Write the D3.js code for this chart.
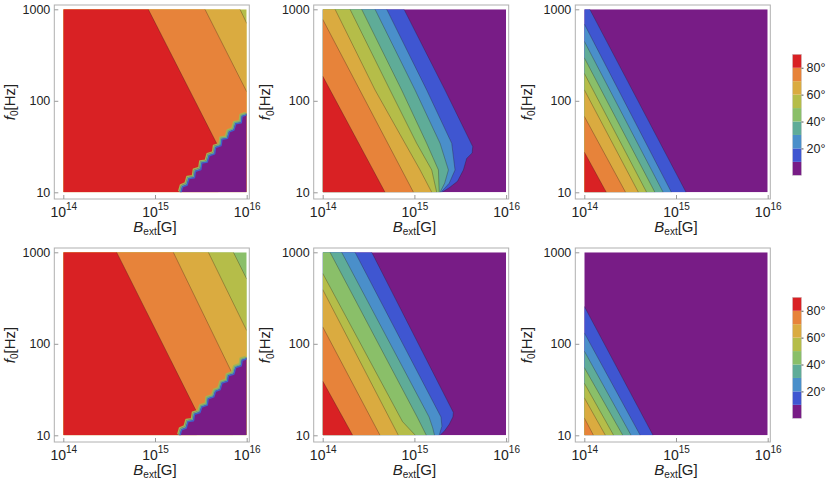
<!DOCTYPE html>
<html>
<head>
<meta charset="utf-8">
<script src="https://cdn.jsdelivr.net/npm/d3@7"></script>
<style>
  body { margin: 0; background: #fff; }
</style>
</head>
<body>
<script>
// contour levels (degrees) and the band colours between them, low -> high
const levels = [10, 20, 30, 40, 50, 60, 70, 80];
const bandColors = ["#781c86", "#3f56d1", "#4a8fca", "#5fac98", "#8abf69",
                    "#b5bd49", "#daab40", "#e7833a", "#d92124"];
const xTicks = [1e14, 1e15, 1e16];
const yTicks = [10, 100, 1000];
const legendTicks = [20, 40, 60, 80];

// contour lines per panel: [level, [[log10 B, log10 f0], ...]]
// the region below/left of each line has angle > level
const contoursA = [
  [60, [[15.927, 3], [16, 2.847]]],
  [70, [[15.545, 3], [16, 2.10]]],
  [80, [[14.927, 3], [15.69, 1.50]]]
];
const stairsA = [[15.27,1.00],[15.29,1.07],[15.34,1.09],[15.36,1.16],[15.42,1.17],[15.43,1.24],
  [15.49,1.26],[15.50,1.33],[15.56,1.34],[15.58,1.41],[15.64,1.43],[15.65,1.50],[15.71,1.52],
  [15.72,1.59],[15.78,1.60],[15.80,1.67],[15.85,1.69],[15.87,1.76],[15.93,1.77],[15.94,1.84],[16.00,1.86]];

const contoursB = [
  [10, [[14.887,3],[15.334,2.118],[15.636,1.5],[15.63,1.43],[15.57,1.37],[15.534,1.244],[15.47,1.12],[15.38,1.05],[15.30,1]]],
  [20, [[14.698,3],[15.134,2.118],[15.407,1.535],[15.443,1.244],[15.38,1.1],[15.29,1]]],
  [30, [[14.571,3],[15.007,2.118],[15.28,1.535],[15.371,1.244],[15.33,1.1],[15.28,1]]],
  [40, [[14.425,3],[14.861,2.118],[15.134,1.535],[15.262,1.244],[15.27,1]]],
  [50, [[14.298,3],[14.734,2.118],[15.025,1.535],[15.189,1.244],[15.243,1]]],
  [60, [[14.135,3],[14.571,2.118],[14.898,1.535],[15.062,1.244],[15.189,1]]],
  [70, [[14,2.89],[14.99,1]]],
  [80, [[14,2.27],[14.68,1]]]
];

const contoursC = [
  [10, [[14.06,3],[15.11,1]]],
  [20, [[14,2.84],[14.95,1]]],
  [30, [[14,2.65],[14.86,1]]],
  [40, [[14,2.47],[14.77,1]]],
  [50, [[14,2.30],[14.68,1]]],
  [60, [[14,2.12],[14.59,1]]],
  [70, [[14,1.83],[14.45,1]]],
  [80, [[14,1.44],[14.24,1]]]
];

const contoursD = [
  [50, [[15.855,3],[16,2.709]]],
  [60, [[15.582,3],[16,2.145]]],
  [70, [[15.20,3],[15.85,1.66]]],
  [80, [[14.582,3],[15.455,1.255]]]
];
const stairsD = [[15.26,1.00],[15.28,1.07],[15.33,1.09],[15.35,1.16],[15.41,1.17],[15.42,1.24],
  [15.48,1.26],[15.50,1.32],[15.56,1.34],[15.57,1.41],[15.63,1.43],[15.65,1.49],[15.70,1.51],
  [15.72,1.58],[15.78,1.60],[15.79,1.66],[15.85,1.68],[15.87,1.75],[15.93,1.77],[15.94,1.83],[16.00,1.85]];

const contoursE = [
  [10, [[14.535,3],[15.425,1.25],[15.42,1.2],[15.38,1.12],[15.33,1.05],[15.28,1]]],
  [20, [[14.353,3],[15.29,1.2],[15.30,1.1],[15.27,1]]],
  [30, [[14.207,3],[15.16,1.2],[15.20,1.08],[15.22,1]]],
  [40, [[14.08,3],[15.03,1.2],[15.10,1.06],[15.13,1]]],
  [50, [[14,2.77],[14.87,1.15],[15.01,1]]],
  [60, [[14,2.593],[14.825,1]]],
  [70, [[14,2.185],[14.625,1]]],
  [80, [[14,1.593],[14.327,1]]]
];

const contoursF = [
  [10, [[14,2.41],[14.75,1]]],
  [20, [[14,2.12],[14.61,1]]],
  [30, [[14,1.92],[14.51,1]]],
  [40, [[14,1.74],[14.42,1]]],
  [50, [[14,1.57],[14.32,1]]],
  [60, [[14,1.41],[14.23,1]]],
  [70, [[14,1.19],[14.10,1]]]
];

const panels = [
  { row: 0, col: 0, contours: contoursA, stairs: stairsA },
  { row: 0, col: 1, contours: contoursB },
  { row: 0, col: 2, contours: contoursC },
  { row: 1, col: 0, contours: contoursD, stairs: stairsD },
  { row: 1, col: 1, contours: contoursE },
  { row: 1, col: 2, contours: contoursF }
];

const width = 830, height = 488;
const colX = [63.3, 322.7, 584.3], rowY = [9.3, 252.3];
const plotW = 183.4, plotH = 183;
const pad = { left: 9, right: 2.6, top: 4.3, bottom: 6.7 };
const font = "'Liberation Sans', Arial, Helvetica, sans-serif";
const textColor = "#222";

const svg = d3.select("body").append("svg")
    .attr("width", width)
    .attr("height", height)
    .style("font-family", font);
const defs = svg.append("defs");

panels.forEach((p, i) => {
  const g = svg.append("g")
      .attr("transform", "translate(" + colX[p.col] + "," + rowY[p.row] + ")");

  const x = d3.scaleLog().domain([1e14, 1e16]).range([0, plotW]);
  const y = d3.scaleLog().domain([10, 1000]).range([plotH, 0]);
  const line = d3.line()
      .x(d => x(Math.pow(10, d[0])))
      .y(d => y(Math.pow(10, d[1])));

  defs.append("clipPath").attr("id", "clip" + i)
    .append("rect").attr("width", plotW).attr("height", plotH);

  const plot = g.append("g").attr("clip-path", "url(#clip" + i + ")");

  const sorted = p.contours.slice().sort((a, b) => a[0] - b[0]);
  const base = sorted[0][0] / 10 - 1;
  plot.append("rect")
      .attr("width", plotW).attr("height", plotH)
      .attr("fill", bandColors[base]);

  // filled bands, lowest first; each higher region sits inside the last
  sorted.forEach(([lev, pts]) => {
    const last = pts[pts.length - 1];
    const poly = pts.concat([[last[0], 1], [14, 1], [14, pts[0][1]]]);
    plot.append("path")
        .attr("d", line(poly) + "Z")
        .attr("fill", bandColors[lev / 10]);
  });

  sorted.forEach(([lev, pts]) => {
    plot.append("path")
        .attr("d", line(pts))
        .attr("fill", "none")
        .attr("stroke", "rgba(40,25,25,0.5)")
        .attr("stroke-width", 0.6);
  });

  // zero region cut off by the stepped edge
  if (p.stairs) {
    plot.append("path")
        .attr("d", line(p.stairs.concat([[16, 1]])) + "Z")
        .attr("fill", bandColors[0]);
    const fringe = [["#a2b553", -1.1, 1.4], ["#5fa890", 0, 1.5], ["#4060cc", 1.0, 1.3]];
    fringe.forEach(([c, off, w]) => {
      plot.append("path")
          .attr("d", line(p.stairs))
          .attr("transform", "translate(" + off + "," + off + ")")
          .attr("fill", "none")
          .attr("stroke", c)
          .attr("stroke-width", w)
          .attr("stroke-linejoin", "round");
    });
  }

  // frame
  g.append("rect")
      .attr("x", -pad.left).attr("y", -pad.top)
      .attr("width", plotW + pad.left + pad.right)
      .attr("height", plotH + pad.top + pad.bottom)
      .attr("fill", "none")
      .attr("stroke", "#b0b0b0")
      .attr("stroke-width", 1);

  const xAxis = g.append("g")
      .attr("transform", "translate(0," + (plotH + pad.bottom) + ")")
      .call(d3.axisBottom(x).tickValues(xTicks).tickSizeInner(-4).tickSizeOuter(0).tickFormat(""));
  xAxis.select(".domain").remove();
  xAxis.selectAll(".tick line").attr("stroke", "#999");
  xAxis.selectAll(".tick text")
      .attr("y", 17.5).attr("dy", null)
      .attr("fill", textColor)
      .style("font-family", font)
      .each(function(d) {
        const t = d3.select(this);
        t.append("tspan").attr("font-size", 14).text("10");
        t.append("tspan").attr("font-size", 10).attr("dy", -6.5).text(Math.round(Math.log10(d)));
      });

  const yAxis = g.append("g")
      .attr("transform", "translate(" + (-pad.left) + ",0)")
      .call(d3.axisLeft(y).tickValues(yTicks).tickSizeInner(-4).tickSizeOuter(0)
            .tickPadding(4).tickFormat(d3.format("d")));
  yAxis.select(".domain").remove();
  yAxis.selectAll(".tick line").attr("stroke", "#999");
  yAxis.selectAll(".tick text")
      .attr("fill", textColor)
      .style("font-family", font)
      .attr("font-size", 12.5);

  // axis labels
  const xl = g.append("text")
      .attr("x", plotW / 2)
      .attr("y", plotH + pad.bottom + 33)
      .attr("text-anchor", "middle")
      .attr("font-size", 15)
      .attr("fill", textColor);
  xl.append("tspan").attr("font-style", "italic").text("B");
  xl.append("tspan").attr("font-size", 10).attr("dy", 3.5).text("ext");
  xl.append("tspan").attr("dy", -3.5).text("[G]");

  const lx = p.col === 0 ? -48.5 : -52.5;
  const yl = g.append("text")
      .attr("transform", "translate(" + lx + "," + ((plotH + pad.bottom - pad.top) / 2) + ")rotate(-90)")
      .attr("text-anchor", "middle")
      .attr("font-size", 15)
      .attr("fill", textColor);
  yl.append("tspan").attr("font-style", "italic").text("f");
  yl.append("tspan").attr("font-size", 10).attr("dy", 3.5).text("0");
  yl.append("tspan").attr("dy", -3.5).text("[Hz]");
});

// legends, one per row
rowY.forEach(top => {
  const barX = 792.5, barW = 9, barTop = top + 45, barH = 121;
  const ly = d3.scaleLinear().domain([0, 90]).range([barTop + barH, barTop]);
  const lg = svg.append("g");
  lg.selectAll("rect.band")
    .data(bandColors)
    .enter().append("rect")
      .attr("class", "band")
      .attr("x", barX)
      .attr("y", (c, i) => ly((i + 1) * 10))
      .attr("width", barW)
      .attr("height", (c, i) => ly(i * 10) - ly((i + 1) * 10))
      .attr("fill", c => c);
  lg.append("rect")
      .attr("x", barX).attr("y", barTop)
      .attr("width", barW).attr("height", barH)
      .attr("fill", "none").attr("stroke", "#c8c8c8").attr("stroke-width", 0.5);
  const ax = lg.append("g")
      .attr("transform", "translate(" + (barX + barW) + ",0)")
      .call(d3.axisRight(ly).tickValues(legendTicks).tickSize(2).tickPadding(3).tickFormat(d => d + "°"));
  ax.select(".domain").remove();
  ax.selectAll(".tick line").attr("stroke", "#555");
  ax.selectAll(".tick text")
      .attr("fill", textColor)
      .style("font-family", font)
      .attr("font-size", 12.5);
});
</script>
</body>
</html>
